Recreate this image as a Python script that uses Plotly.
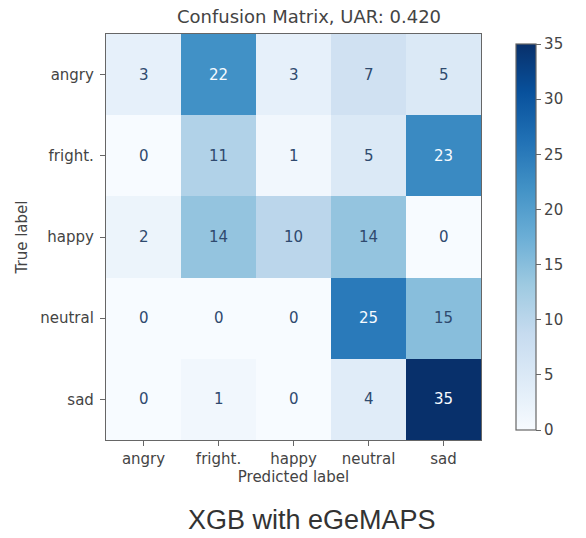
import plotly.graph_objects as go

labels = ["angry", "fright.", "happy", "neutral", "sad"]
matrix = [
    [3, 22, 3, 7, 5],
    [0, 11, 1, 5, 23],
    [2, 14, 10, 14, 0],
    [0, 0, 0, 25, 15],
    [0, 1, 0, 4, 35],
]
cbar_ticks = [0, 5, 10, 15, 20, 25, 30, 35]
title_text = "Confusion Matrix, UAR: 0.420"
caption = "XGB with eGeMAPS"

blues = ["#f7fbff", "#deebf7", "#c6dbef", "#9ecae1", "#6baed6",
         "#4292c6", "#2171b5", "#08519c", "#08306b"]
colorscale = [[i / (len(blues) - 1), c] for i, c in enumerate(blues)]

zmin = min(min(r) for r in matrix)
zmax = max(max(r) for r in matrix)
thresh = (zmin + zmax) / 2

W, H = 586, 538
L, R, T, B = 106, 512, 34, 440
pw, ph = R - L, B - T

fig = go.Figure(go.Heatmap(
    z=matrix, x=labels, y=labels, colorscale=colorscale,
    zmin=zmin, zmax=zmax, showscale=True, hoverinfo="skip",
    colorbar=dict(
        x=(539 - L) / pw, xanchor="left", thickness=20,
        len=1, lenmode="fraction", y=0.5, yanchor="middle",
        outlinewidth=1.2, outlinecolor="#666",
        tickvals=cbar_ticks, ticks="outside", ticklen=5, tickcolor="#666",
        tickfont=dict(family="DejaVu Sans", size=15, color="#444"),
    ),
))

annotations = []
for i, row in enumerate(matrix):
    for j, v in enumerate(row):
        annotations.append(dict(
            x=labels[j], y=labels[i], text=str(v), showarrow=False,
            font=dict(family="DejaVu Sans", size=15,
                      color="#f7fbff" if v > thresh else "#2f4a6e"),
        ))
annotations.append(dict(
    text=caption, xref="paper", yref="paper",
    x=(329 - L) / pw, y=(B - 520) / ph, xanchor="center", yanchor="middle",
    showarrow=False, font=dict(family="Liberation Sans, Arial", size=27, color="#333"),
))

axis_common = dict(
    showline=True, linecolor="#666", linewidth=1.2, mirror=True,
    ticks="outside", ticklen=5, tickcolor="#666", showgrid=False, zeroline=False,
    tickfont=dict(family="DejaVu Sans", size=15, color="#444"),
)

fig.update_layout(
    width=W, height=H,
    margin=dict(l=L, r=W - R, t=T, b=H - B),
    paper_bgcolor="white", plot_bgcolor="white",
    title=dict(text=title_text, x=309 / W, xanchor="center",
               y=1 - 17 / H, yanchor="middle", yref="container",
               font=dict(family="DejaVu Sans", size=18, color="#444")),
    xaxis=dict(**axis_common, title=dict(text="Predicted label", standoff=4,
               font=dict(family="DejaVu Sans", size=15, color="#444"))),
    yaxis=dict(**axis_common, autorange="reversed", ticklabelstandoff=3,
               title=dict(text="True label", standoff=8,
                          font=dict(family="DejaVu Sans", size=15, color="#444"))),
    annotations=annotations,
)

fig.write_html("out.html", config={"displayModeBar": False},
               post_script="document.body.style.margin='0';")
